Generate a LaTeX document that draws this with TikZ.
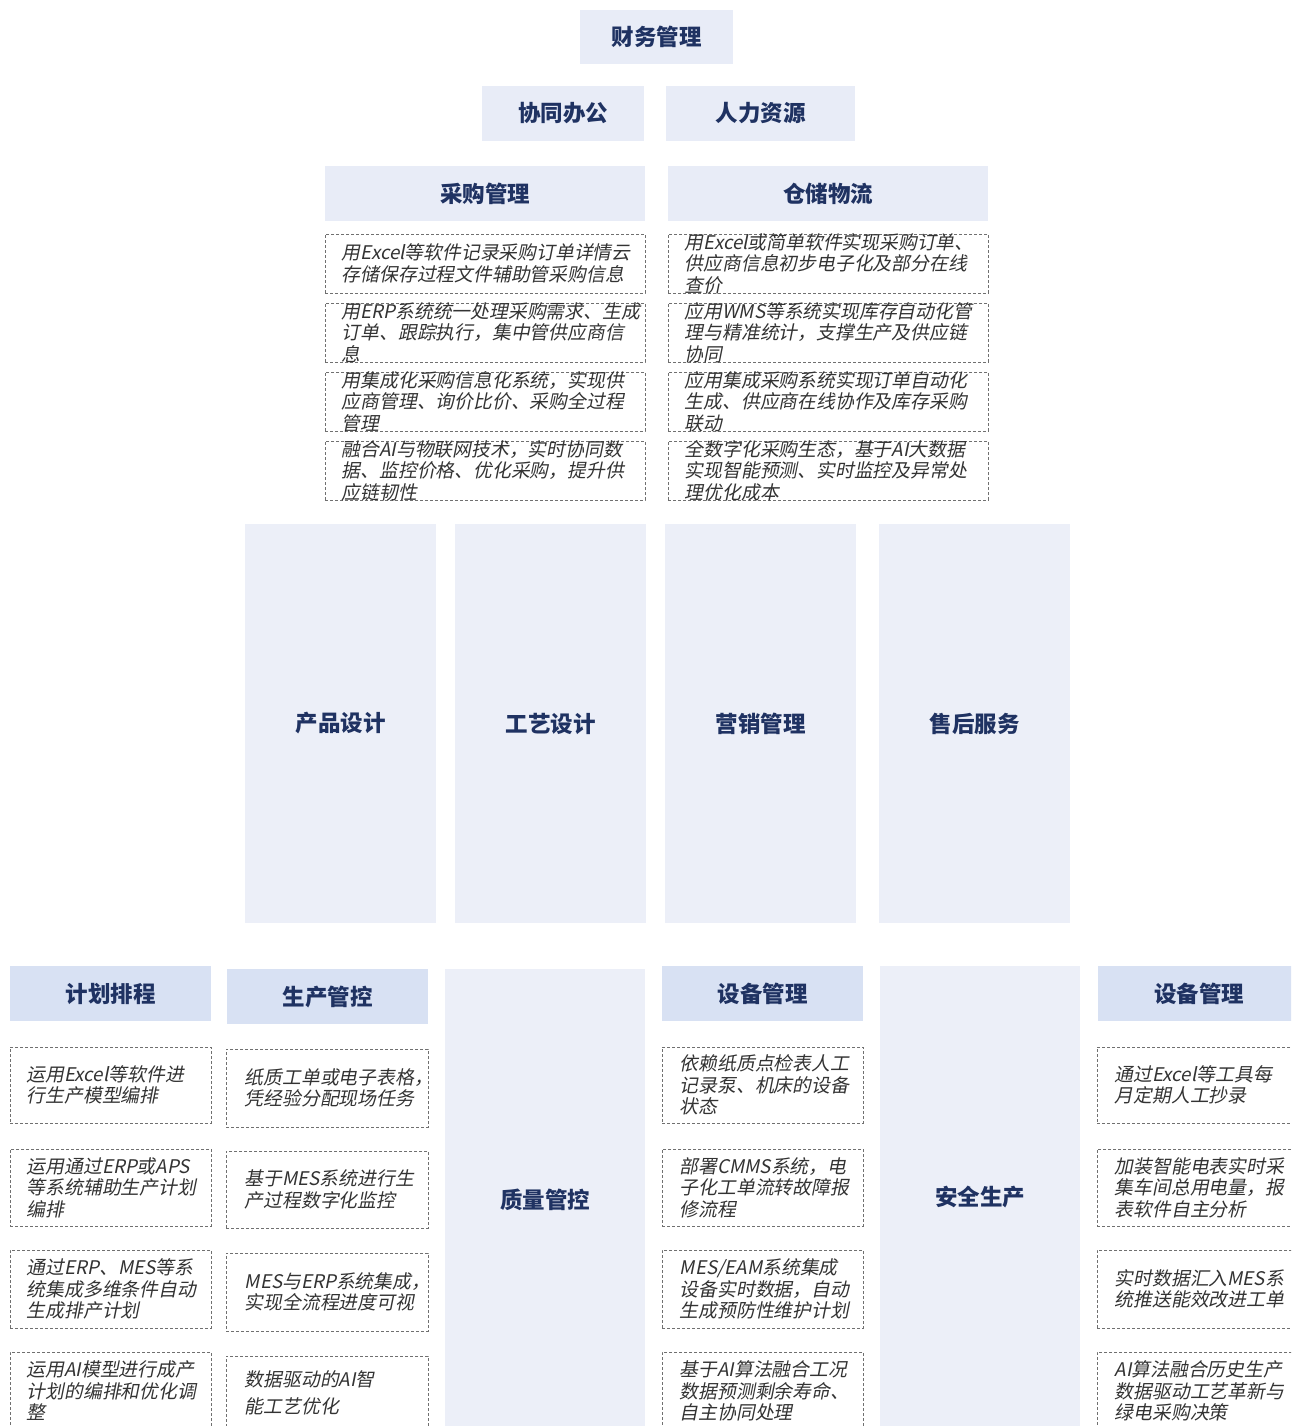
\documentclass[tikz,border=0pt]{standalone}
\usepackage{fontspec}
\setmainfont{Noto Sans CJK SC}
\newfontfamily\itfont[FakeSlant=0.2]{Noto Sans CJK SC}
\definecolor{topfill}{HTML}{E8ECF7}
\definecolor{hdrfill}{HTML}{D8E1F3}
\definecolor{tallfill}{HTML}{ECEFF8}
\definecolor{navy}{HTML}{1F3262}
\definecolor{bodytxt}{HTML}{333333}
\definecolor{dashcol}{HTML}{707070}
\tikzset{
  topbox/.style={fill=topfill, draw=none, inner sep=0pt, text=navy, font=\fontsize{22.5}{26}\selectfont\bfseries},
  hdrbox/.style={fill=hdrfill, draw=none, inner sep=0pt, text=navy, font=\fontsize{22.5}{26}\selectfont\bfseries},
  tallbox/.style={fill=tallfill, draw=none, inner sep=0pt, text=navy, font=\fontsize{22.5}{26}\selectfont\bfseries},
  dbox/.style={draw=dashcol, dash pattern=on 3pt off 2pt, line width=0.8pt, fill=white, inner sep=0pt},
  dtext/.style={anchor=west, align=left, inner sep=0pt, text=bodytxt, font=\itfont\fontsize{18.8}{21.5}\selectfont},
}
\begin{document}
\begin{tikzpicture}[x=1pt,y=-1pt]
\useasboundingbox (0,0) rectangle (1291,1426);
\clip (0,0) rectangle (1291,1426);
\fill[white] (0,0) rectangle (1291,1426);
% top
\node[topbox, minimum width=153, minimum height=54] (fin) at (656.5,37) {财务管理};
\node[topbox, minimum width=162, minimum height=55] (xt) at (563,113.5) {协同办公};
\node[topbox, minimum width=189, minimum height=55] (rl) at (760.5,113.5) {人力资源};
\node[topbox, minimum width=320, minimum height=55] (cg) at (485,193.5) {采购管理};
\node[topbox, minimum width=320, minimum height=55] (cc) at (828,193.5) {仓储物流};
% procurement boxes
\foreach \n/\y in {1/263.5,2/332.5,3/401.5,4/470.5}{
  \node[dbox, minimum width=320, minimum height=59] (p\n) at (485,\y) {};
  \node[dbox, minimum width=320, minimum height=59] (w\n) at (828,\y) {};
}
\node[dtext] (p1t) at ([xshift=17pt]p1.west) {用Excel等软件记录采购订单详情云\\存储保存过程文件辅助管采购信息};
\node[dtext] (p2t) at ([xshift=17pt]p2.west) {用ERP系统统一处理采购需求、生成\\订单、跟踪执行，集中管供应商信\\息};
\node[dtext] (p3t) at ([xshift=17pt]p3.west) {用集成化采购信息化系统，实现供\\应商管理、询价比价、采购全过程\\管理};
\node[dtext] (p4t) at ([xshift=17pt]p4.west) {融合AI与物联网技术，实时协同数\\据、监控价格、优化采购，提升供\\应链韧性};
\node[dtext] (w1t) at ([xshift=17pt]w1.west) {用Excel或简单软件实现采购订单、\\供应商信息初步电子化及部分在线\\查价};
\node[dtext] (w2t) at ([xshift=17pt]w2.west) {应用WMS等系统实现库存自动化管\\理与精准统计，支撑生产及供应链\\协同};
\node[dtext] (w3t) at ([xshift=17pt]w3.west) {应用集成采购系统实现订单自动化\\生成、供应商在线协作及库存采购\\联动};
\node[dtext] (w4t) at ([xshift=17pt]w4.west) {全数字化采购生态，基于AI大数据\\实现智能预测、实时监控及异常处\\理优化成本};
% middle tall columns
\node[tallbox, minimum width=191, minimum height=399] (cp) at (340.5,723.5) {产品设计};
\node[tallbox, minimum width=191, minimum height=399] (gy) at (550.5,723.5) {工艺设计};
\node[tallbox, minimum width=191, minimum height=399] (yx) at (760.5,723.5) {营销管理};
\node[tallbox, minimum width=191, minimum height=399] (sh) at (974.5,723.5) {售后服务};
% bottom headers and tall columns
\node[hdrbox, minimum width=201, minimum height=55] (jh) at (110.5,993.5) {计划排程};
\node[hdrbox, minimum width=201, minimum height=55] (sc) at (327.5,996.5) {生产管控};
\node[tallbox, minimum width=200, minimum height=462] (zl) at (545,1200) {质量管控};
\node[hdrbox, minimum width=201, minimum height=55] (sb1) at (762.5,993.5) {设备管理};
\node[tallbox, minimum width=200, minimum height=462] (aq) at (980,1197) {安全生产};
\node[hdrbox, minimum width=202, minimum height=55] (sb2) at (1199,993.5) {设备管理};
% column 1
\node[dbox, minimum width=201, minimum height=76] (a1) at (110.5,1085) {};
\node[dbox, minimum width=201, minimum height=77] (a2) at (110.5,1187.5) {};
\node[dbox, minimum width=201, minimum height=78] (a3) at (110.5,1289) {};
\node[dbox, minimum width=201, minimum height=78] (a4) at (110.5,1391) {};
\node[dtext] (a1t) at ([xshift=17pt]a1.west) {运用Excel等软件进\\行生产模型编排};
\node[dtext] (a2t) at ([xshift=17pt]a2.west) {运用通过ERP或APS\\等系统辅助生产计划\\编排};
\node[dtext] (a3t) at ([xshift=17pt]a3.west) {通过ERP、MES等系\\统集成多维条件自动\\生成排产计划};
\node[dtext] (a4t) at ([xshift=17pt]a4.west) {运用AI模型进行成产\\计划的编排和优化调\\整};
% column 2
\node[dbox, minimum width=202, minimum height=78] (b1) at (327,1088) {};
\node[dbox, minimum width=202, minimum height=77] (b2) at (327,1189.5) {};
\node[dbox, minimum width=202, minimum height=78] (b3) at (327,1292) {};
\node[dbox, minimum width=202, minimum height=78] (b4) at (327,1395) {};
\node[dtext] (b1t) at ([xshift=19pt]b1.west) {纸质工单或电子表格，\\凭经验分配现场任务};
\node[dtext] (b2t) at ([xshift=19pt]b2.west) {基于MES系统进行生\\产过程数字化监控};
\node[dtext] (b3t) at ([xshift=19pt]b3.west) {MES与ERP系统集成，\\实现全流程进度可视};
\node[dtext, font=\itfont\fontsize{18.8}{27}\selectfont] (b4t) at ([xshift=19pt,yshift=2pt]b4.west) {数据驱动的AI智\\能工艺优化};
% column 4
\node[dbox, minimum width=201, minimum height=76] (c1) at (762.5,1085) {};
\node[dbox, minimum width=201, minimum height=77] (c2) at (762.5,1187.5) {};
\node[dbox, minimum width=201, minimum height=78] (c3) at (762.5,1289) {};
\node[dbox, minimum width=201, minimum height=78] (c4) at (762.5,1391) {};
\node[dtext] (c1t) at ([xshift=18pt]c1.west) {依赖纸质点检表人工\\记录泵、机床的设备\\状态};
\node[dtext] (c2t) at ([xshift=18pt]c2.west) {部署CMMS系统，电\\子化工单流转故障报\\修流程};
\node[dtext] (c3t) at ([xshift=18pt]c3.west) {MES/EAM系统集成\\设备实时数据，自动\\生成预防性维护计划};
\node[dtext] (c4t) at ([xshift=18pt]c4.west) {基于AI算法融合工况\\数据预测剩余寿命、\\自主协同处理};
% column 6
\node[dbox, minimum width=206, minimum height=76] (d1) at (1200,1085) {};
\node[dbox, minimum width=206, minimum height=77] (d2) at (1200,1187.5) {};
\node[dbox, minimum width=206, minimum height=78] (d3) at (1200,1289) {};
\node[dbox, minimum width=206, minimum height=78] (d4) at (1200,1391) {};
\node[dtext] (d1t) at ([xshift=18pt]d1.west) {通过Excel等工具每\\月定期人工抄录};
\node[dtext] (d2t) at ([xshift=18pt]d2.west) {加装智能电表实时采\\集车间总用电量，报\\表软件自主分析};
\node[dtext] (d3t) at ([xshift=18pt]d3.west) {实时数据汇入MES系\\统推送能效改进工单};
\node[dtext] (d4t) at ([xshift=18pt]d4.west) {AI算法融合历史生产\\数据驱动工艺革新与\\绿电采购决策};
\end{tikzpicture}
\end{document}
